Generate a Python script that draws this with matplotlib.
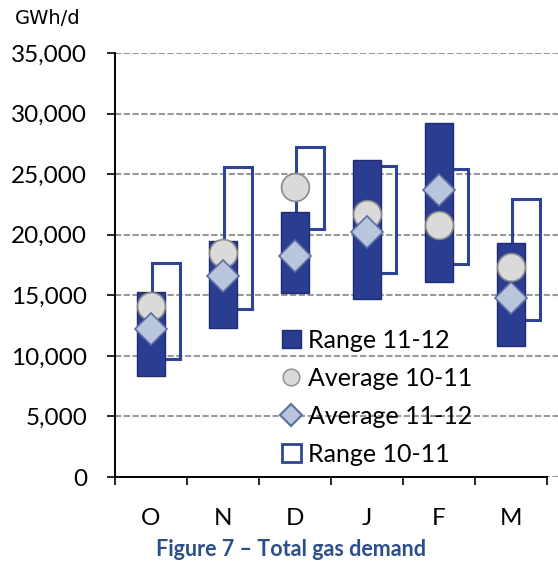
import matplotlib
matplotlib.use("Agg")
import matplotlib.pyplot as plt
from matplotlib.patches import Patch
from matplotlib.lines import Line2D
from matplotlib.ticker import FuncFormatter
import numpy as np

# values (GWh/d)
months = ["O", "N", "D", "J", "F", "M"]
range_1112_low = [8300, 12300, 15200, 14700, 16100, 10850]
range_1112_high = [15300, 19500, 21850, 26200, 29200, 19350]
range_1011_low = [9700, 13900, 20450, 16800, 17550, 12950]
range_1011_high = [17650, 25600, 27250, 25700, 25450, 22950]
avg_1011 = [14100, 18450, 23900, 21700, 20800, 17300]
avg_1112 = [12200, 16600, 18250, 20250, 23650, 14800]

dark_blue = "#2B3D91"
box_blue = "#2E4597"
font = "Lato"

fig = plt.figure(figsize=(5.58, 5.63), dpi=100)
ax = fig.add_axes([115 / 558, 1 - 477 / 563, 1 - 115 / 558, (477 - 53) / 563])

x = np.arange(len(months))
lo1 = np.array(range_1112_low)
hi1 = np.array(range_1112_high)
lo0 = np.array(range_1011_low)
hi0 = np.array(range_1011_high)

# range 10-11: open boxes, shifted right, behind
ax.bar(x + 0.21, hi0 - lo0, bottom=lo0, width=0.39, facecolor="none",
       edgecolor=box_blue, linewidth=2.2, zorder=2)
# range 11-12: filled bars
ax.bar(x, hi1 - lo1, bottom=lo1, width=0.39, color=dark_blue,
       edgecolor="#1E2C70", linewidth=1.0, zorder=3)

ax.plot(x, avg_1011, linestyle="none", marker="o", markersize=20,
        markerfacecolor="#DADADA", markeredgecolor="#8A8A8A", markeredgewidth=1.2, zorder=5)
ax.plot(x, avg_1112, linestyle="none", marker="D", markersize=16,
        markerfacecolor="#B9C5DA", markeredgecolor="#5B6FA6", markeredgewidth=1.2, zorder=6)

ax.set_ylim(0, 35000)
ax.set_xlim(-0.5, 5.5 + 11 / 72)
ax.set_yticks(np.arange(0, 35001, 5000))
ax.yaxis.set_major_formatter(FuncFormatter(lambda v, p: f"{int(v):,}"))
ax.set_xticks(np.arange(-0.5, 6, 1))
ax.set_xticklabels([])
ax.set_xticks(x, minor=True)
ax.set_xticklabels(months, minor=True)

ax.tick_params(axis="y", which="major", direction="out", length=6, width=1.2,
               pad=14, labelsize=17.5, labelfontfamily=font)
ax.tick_params(axis="x", which="major", direction="out", length=6, width=1.2)
ax.tick_params(axis="x", which="minor", length=0, pad=22, labelsize=17.5,
               labelfontfamily=font)

ax.grid(axis="y", color="#9A9A9A", linestyle=(0, (3, 1.2)), linewidth=1.5, zorder=1)
ax.set_axisbelow(True)
for s in ["top", "right"]:
    ax.spines[s].set_visible(False)
ax.spines["left"].set_linewidth(1.4)
ax.spines["bottom"].set_linewidth(1.4)
ax.spines["bottom"].set_bounds(-0.5, 5.5)
ax.spines["bottom"].set_zorder(4)

handles = [
    Patch(facecolor=dark_blue, edgecolor="#1E2C70"),
    Line2D([], [], linestyle="none", marker="o", markersize=12,
           markerfacecolor="#DADADA", markeredgecolor="#8A8A8A"),
    Line2D([], [], linestyle="none", marker="D", markersize=11,
           markerfacecolor="#B9C5DA", markeredgecolor="#5B6FA6", markeredgewidth=1.5),
    Patch(facecolor="white", edgecolor=box_blue, linewidth=2),
]
labels = ["Range 11-12", "Average 10-11", "Average 11-12", "Range 10-11"]
ax.legend(handles, labels, loc="upper left", bbox_to_anchor=(282 / 558, 1 - 329 / 563),
          bbox_transform=fig.transFigure, frameon=False, prop={"family": font, "size": 18},
          handlelength=0.75, handleheight=0.75, handletextpad=0.3, labelspacing=0.6,
          borderaxespad=0, borderpad=0)

fig.text(15 / 558, 1 - 18 / 563, "GWh/d", fontsize=14, family="DejaVu Sans", va="center")
fig.text(291 / 558, 1 - 549 / 563, "Figure 7 \u2013 Total gas demand", fontsize=15.5,
         family=font, weight="bold", color="#2C4F8C", ha="center", va="center")

fig.savefig("out.png", dpi=100)
